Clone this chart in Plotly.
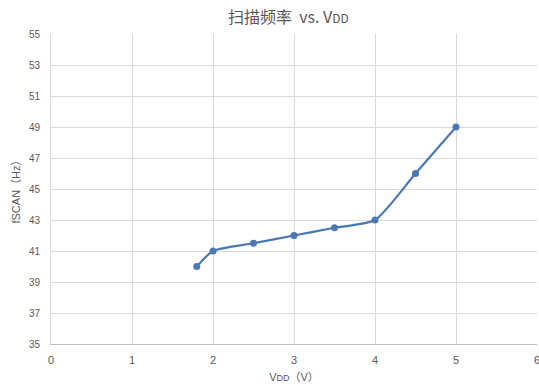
import plotly.graph_objects as go

# Scan frequency measured against supply voltage
vdd = [1.8, 2.0, 2.5, 3.0, 3.5, 4.0, 4.5, 5.0]
fscan = [40, 41, 41.5, 42, 42.5, 43, 46, 49]

x_ticks = [0, 1, 2, 3, 4, 5, 6]
y_ticks = [35, 37, 39, 41, 43, 45, 47, 49, 51, 53, 55]

line_color = "#4a78b5"
grid_color = "#d9d9d9"
text_color = "#595959"
font_family = "Liberation Sans, Noto Sans CJK SC, sans-serif"

fig = go.Figure()
fig.add_trace(go.Scatter(
    x=vdd, y=fscan,
    mode="lines+markers",
    line=dict(color=line_color, width=2.2, shape="spline", smoothing=0.6),
    marker=dict(color=line_color, size=7),
    showlegend=False,
))

fig.update_layout(
    width=539, height=391,
    margin=dict(l=51, r=2, t=34, b=47),
    paper_bgcolor="white",
    plot_bgcolor="white",
    font=dict(family=font_family, color=text_color, size=11),
    title=dict(
        text="扫描频率  vs. V<span style='font-size:12px'>DD</span>",
        x=0.535, xanchor="center", y=0.955, yanchor="middle",
        font=dict(family="Noto Sans CJK SC, Liberation Sans, sans-serif", size=16, color=text_color),
    ),
)

fig.update_xaxes(
    range=[0, 6], tickvals=x_ticks, ticktext=[str(v) for v in x_ticks],
    showgrid=True, gridcolor=grid_color, gridwidth=1,
    zeroline=False, showline=True, linecolor="#bfbfbf", linewidth=1,
    ticks="", ticklabelstandoff=6, ticklabeloverflow="allow", automargin=False,
    title=dict(text="V<span style='font-size:9px'>DD</span>（V）", standoff=8,
               font=dict(size=11, color=text_color)),
    tickfont=dict(size=11, color=text_color),
)
fig.update_yaxes(
    range=[35, 55], tickvals=y_ticks, ticktext=[str(v) for v in y_ticks],
    showgrid=True, gridcolor=grid_color, gridwidth=1,
    zeroline=False, showline=True, linecolor=grid_color, linewidth=1,
    ticks="", ticklabelstandoff=8, automargin=False,
    title=dict(text="fSCAN（Hz）", standoff=6, font=dict(size=11, color=text_color)),
    tickfont=dict(size=10, color=text_color),
)

fig.write_html("out.html")
